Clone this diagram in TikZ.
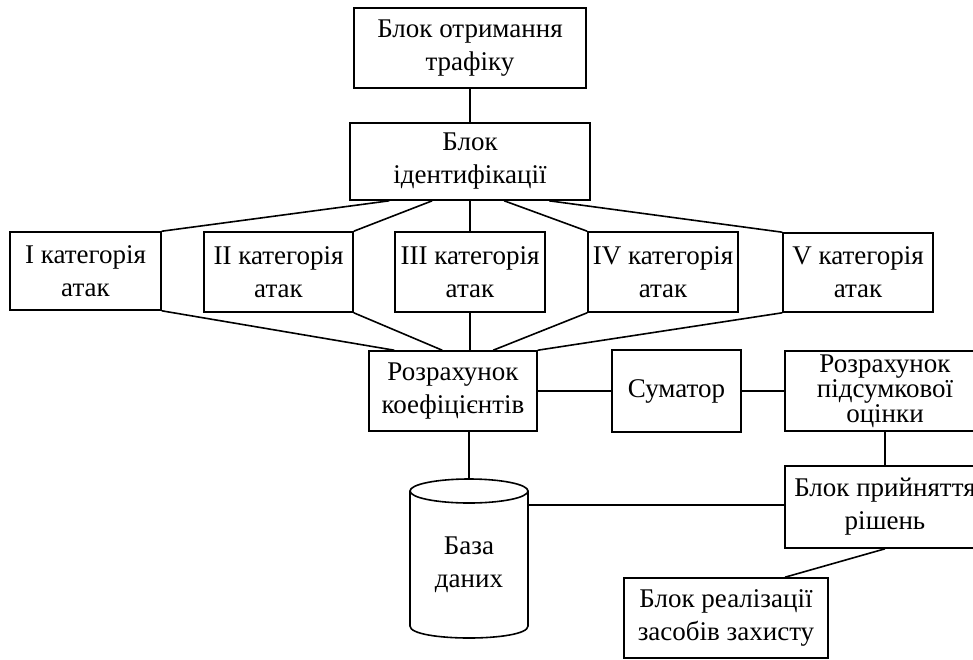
\documentclass[tikz,border=0pt]{standalone}
\usepackage{fontspec}
\setmainfont{Liberation Serif}
\usetikzlibrary{calc}
\begin{document}
\begin{tikzpicture}[x=1pt,y=-1pt,
  blk/.style={draw, line width=1.6pt, rectangle, inner sep=0pt, align=center, font=\fontsize{27}{33}\selectfont},
  con/.style={line width=1.6pt},
  txt/.style={inner sep=0pt, align=center, font=\fontsize{27}{33}\selectfont}]
\useasboundingbox (0,0) rectangle (973,659);
\clip (0,0) rectangle (973,659);
% boxes
\node[blk, minimum width=232pt, minimum height=80pt] (top) at (470,48) {Блок отримання\\трафіку};
\node[blk, minimum width=240pt, minimum height=77pt] (ident) at (470,161.5) {Блок\\ідентифікації};
\node[blk, minimum width=151pt, minimum height=78pt] (c1) at (85.5,271) {I категорія\\атак};
\node[blk, minimum width=149pt, minimum height=80pt] (c2) at (278.5,272) {II категорія\\атак};
\node[blk, minimum width=150pt, minimum height=80pt] (c3) at (470,272) {III категорія\\атак};
\node[blk, minimum width=150pt, minimum height=80pt] (c4) at (663,272) {IV категорія\\атак};
\node[blk, minimum width=150pt, minimum height=79pt] (c5) at (858,272.5) {V категорія\\атак};
\node[blk, minimum width=168pt, minimum height=80pt] (koef) at (453,391) {Розрахунок\\коефіцієнтів};
\node[blk, minimum width=129pt, minimum height=82pt] (sum) at (676.5,391) {Суматор};
\node[blk, minimum width=200pt, minimum height=80pt, font=\fontsize{27}{25}\selectfont] (pids) at (885,391) {Розрахунок\\підсумкової\\оцінки};
\node[blk, minimum width=200pt, minimum height=82pt] (decis) at (885,507) {Блок прийняття\\рішень};
\node[blk, minimum width=204pt, minimum height=80pt] (impl) at (726,618) {Блок реалізації\\засобів захисту};
% database cylinder
\coordinate (dbtop) at (469,479);
\coordinate (dbr) at (528,505);
\draw[con] (469,491) ellipse [x radius=59, y radius=12];
\draw[con] (410,491) -- (410,626) .. controls (410,642) and (528,642) .. (528,626) -- (528,491);
\node[txt] (db) at (469,565) {База\\даних};
% connectors
\draw[con] (top) -- (ident);
\draw[con] ([xshift=40pt]ident.south west) -- (c1.north east);
\draw[con] ([xshift=83pt]ident.south west) -- (c2.north east);
\draw[con] (ident.south) -- (c3.north);
\draw[con] ([xshift=155pt]ident.south west) -- (c4.north west);
\draw[con] ([xshift=200pt]ident.south west) -- (c5.north west);
\draw[con] (c1.south east) -- ([xshift=26pt]koef.north west);
\draw[con] (c2.south east) -- ([xshift=74pt]koef.north west);
\draw[con] (c3.south) -- (c3.south |- koef.north);
\draw[con] (c4.south west) -- ([xshift=125pt]koef.north west);
\draw[con] (c5.south west) -- (koef.north east);
\draw[con] (koef.east) -- (sum.west);
\draw[con] (sum.east) -- (pids.west);
\draw[con] (pids.south) -- (decis.north);
\draw[con] (dbtop |- koef.south) -- (dbtop);
\draw[con] (dbr) -- (dbr -| decis.west);
\draw[con] (decis.south) -- ([xshift=59pt]impl.north);
\end{tikzpicture}
\end{document}
